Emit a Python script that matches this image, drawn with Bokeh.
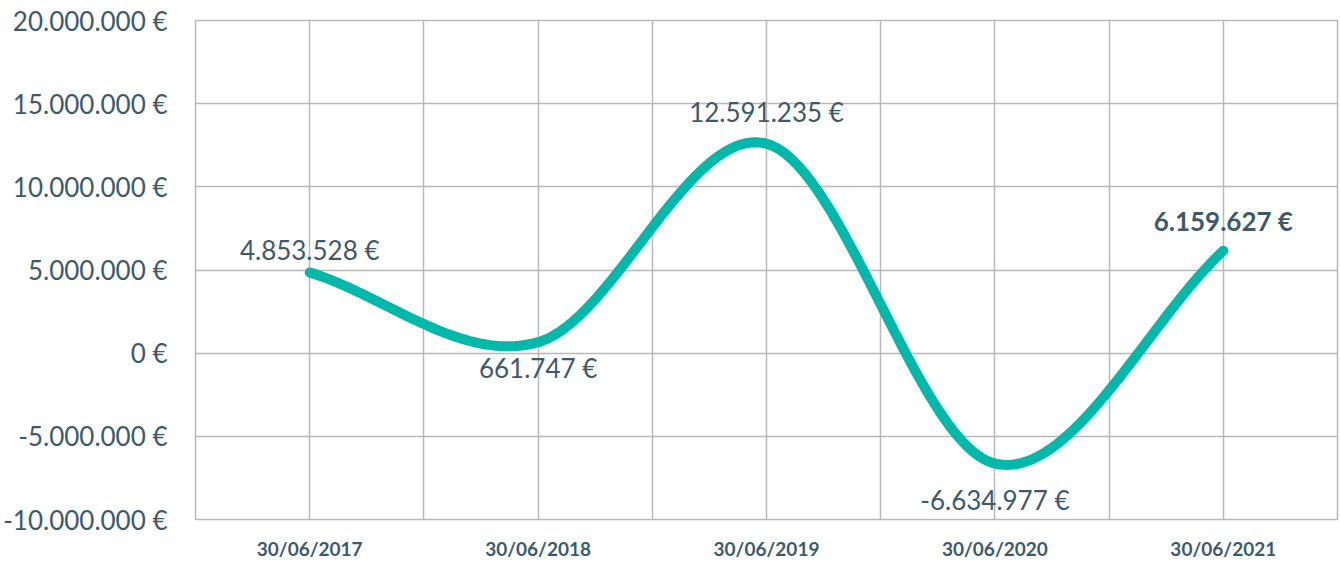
import numpy as np
from bokeh.plotting import figure
from bokeh.models import FixedTicker, Range1d, ColumnDataSource
from bokeh.core.properties import value
from bokeh.embed import file_html
from bokeh.resources import INLINE

# ---- data ----
dates = ["30/06/2017", "30/06/2018", "30/06/2019", "30/06/2020", "30/06/2021"]
values = [4853528, 661747, 12591235, -6634977, 6159627]
y_ticks = [-10000000, -5000000, 0, 5000000, 10000000, 15000000, 20000000]

def fmt(v):
    return f"{v:,}".replace(",", ".") + " €"

y_tick_labels = [fmt(t) for t in y_ticks]
point_labels = [fmt(v) for v in values]

# ---- styles ----
TEXT = "#3e5a6a"
GRID = "#b8b8b8"
LINE = "#00b9aa"
FONT = "Lato"

p = figure(width=1340, height=562, output_backend="svg", toolbar_location=None,
           x_range=Range1d(-0.5, 4.5), y_range=Range1d(-10000000, 20000000),
           min_border_left=192, min_border_right=3, min_border_top=20, min_border_bottom=43)
p.outline_line_color = GRID
p.outline_line_width = 1.5
p.background_fill_color = "white"
p.border_fill_color = "white"

# grids
p.xgrid.ticker = FixedTicker(ticks=[i * 0.5 - 0.5 for i in range(11)])
p.ygrid.ticker = FixedTicker(ticks=y_ticks)
for g in (p.xgrid, p.ygrid):
    g.grid_line_color = GRID
    g.grid_line_width = 1.5

# y axis
p.yaxis.ticker = FixedTicker(ticks=y_ticks)
p.yaxis.major_label_overrides = {t: l for t, l in zip(y_ticks, y_tick_labels)}
p.yaxis.axis_line_color = None
p.yaxis.major_tick_line_color = None
p.yaxis.minor_tick_line_color = None
p.yaxis.major_tick_out = 0
p.yaxis.major_label_standoff = 28
p.yaxis.major_label_text_font = FONT
p.yaxis.major_label_text_font_size = "26px"
p.yaxis.major_label_text_color = TEXT

# x axis
xs = list(range(len(dates)))
p.xaxis.ticker = FixedTicker(ticks=xs)
p.xaxis.major_label_overrides = {i: d for i, d in zip(xs, dates)}
p.xaxis.axis_line_color = None
p.xaxis.major_tick_line_color = None
p.xaxis.minor_tick_line_color = None
p.xaxis.major_tick_out = 0
p.xaxis.major_label_standoff = 17
p.xaxis.major_label_text_font = FONT
p.xaxis.major_label_text_font_size = "19px"
p.xaxis.major_label_text_font_style = "bold"
p.xaxis.major_label_text_color = TEXT

# smooth curve (cubic Hermite / Catmull-Rom through the data points)
v = np.array(values, dtype=float)
n = len(v)
tang = np.zeros(n)
for i in range(n):
    if i == 0:
        tang[i] = v[1] - v[0]
    elif i == n - 1:
        tang[i] = v[-1] - v[-2]
    else:
        tang[i] = (v[i + 1] - v[i - 1]) / 2
cx, cy = [], []
for i in range(n - 1):
    t = np.linspace(0, 1, 60, endpoint=(i == n - 2))
    h00 = 2 * t**3 - 3 * t**2 + 1
    h10 = t**3 - 2 * t**2 + t
    h01 = -2 * t**3 + 3 * t**2
    h11 = t**3 - t**2
    cx.extend(list(i + t))
    cy.extend(list(h00 * v[i] + h10 * tang[i] + h01 * v[i + 1] + h11 * tang[i + 1]))
p.line(cx, cy, line_color=LINE, line_width=10, line_cap="round", line_join="round")

# point labels
label_offsets = [-22, 26, -32, 36, -30]
label_styles = ["normal", "normal", "normal", "normal", "bold"]
src = ColumnDataSource(dict(x=xs, y=values, text=point_labels,
                            off=label_offsets, style=label_styles))
p.text(x="x", y="y", text="text", y_offset="off", source=src,
       text_font=value(FONT), text_font_size="26px", text_color=TEXT,
       text_font_style="style", text_align="center", text_baseline="middle")

open("out.html", "w").write(file_html(p, INLINE))
